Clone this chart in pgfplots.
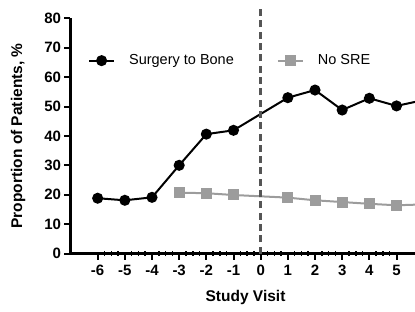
\documentclass[border=0pt]{standalone}
\usepackage{fontspec}
\setmainfont{Liberation Sans}
\usepackage{pgfplots}
\pgfplotsset{compat=1.18}
\definecolor{sgray}{HTML}{9C9C9C}
\definecolor{dgray}{HTML}{555555}
\begin{document}
\begin{tikzpicture}
\begin{axis}[
 name=ax, scale only axis, width=344.5pt, height=235.2pt,
 xmin=-7, xmax=5.68, ymin=0, ymax=80,
 axis x line=bottom, axis y line=left,
 axis line style={-, line width=2.2pt},
 xtick={-6,...,5}, ytick={0,10,...,80}, minor x tick num=3,
 tick align=outside, major tick length=6pt, minor tick length=5pt,
 tick style={line width=2pt, black},
 minor x tick style={yshift=2.5pt, line width=1.5pt},
 ticklabel style={font=\fontsize{15}{15}\selectfont\bfseries},
 xticklabel style={yshift=-2pt},
 /pgf/number format/assume math mode=true,
 xlabel={Study Visit}, ylabel={Proportion of Patients, \%},
 label style={font=\fontsize{15.5}{16}\selectfont\bfseries},
 xlabel style={at={(axis description cs:0.508,-0.185)}, anchor=center},
 ylabel style={at={(axis description cs:-0.1524,0.5)}, anchor=center},
 legend columns=2,
 legend style={draw=none, fill=none, at={(axis cs:-6.47,65.6)}, anchor=west,
   font=\fontsize{14.5}{15}\selectfont,
   /tikz/every odd column/.append style={column sep=12pt},
   /tikz/every even column/.append style={column sep=41pt}},
 legend image code/.code={\draw[mark repeat=2,mark phase=2,#1] plot coordinates {(0pt,0pt) (12.5pt,0pt) (25pt,0pt)};},
]
\addplot[black, line width=2pt, mark=*, mark size=4.5pt] coordinates {
 (-6,18.8)(-5,18.1)(-4,19.1)(-3,30.0)(-2,40.6)(-1,41.9)(1,53.0)(2,55.6)(3,48.8)(4,52.8)(5,50.2)(6,52.2)};
\addlegendentry{Surgery to Bone}
\addplot[sgray, line width=2pt, mark=square*, mark size=4.5pt] coordinates {
 (-3,20.7)(-2,20.5)(-1,19.9)(1,19.0)(2,18.1)(3,17.5)(4,16.9)(5,16.4)(6,16.7)};
\addlegendentry{No SRE}
\coordinate (d0) at (axis cs:0,0);
\coordinate (d1) at (axis cs:0,83.2);
\end{axis}
\draw[dgray, line width=2.5pt, dash pattern=on 7pt off 4.3pt] (d0) -- (d1);
\pgfresetboundingbox
\path (ax.south west) ++(-70.5pt,-57.5pt) rectangle ++(415pt,311pt);
\end{tikzpicture}
\end{document}
